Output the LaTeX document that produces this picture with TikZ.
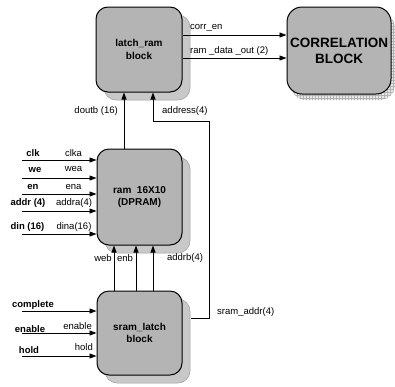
\documentclass[tikz,border=0pt]{standalone}
\usepackage{fontspec}
\setmainfont{Liberation Sans}
\usetikzlibrary{arrows.meta,shadows,patterns}

\definecolor{blockgray}{RGB}{180,180,180}
\definecolor{shadowgray}{RGB}{200,200,200}

\begin{document}
\begin{tikzpicture}[x=1pt,y=-1pt,
  block/.style={draw=black, line width=1pt, fill=blockgray, rounded corners=12pt,
    font=\fontsize{10}{12.5}\selectfont\bfseries, align=center, inner sep=0pt,
    copy shadow={shadow xshift=8pt, shadow yshift=-8pt, fill=shadowgray,
      draw=gray!75, line width=0.5pt}},
  bigblock/.style={draw=black, line width=1pt, fill=blockgray, rounded corners=15pt,
    font=\fontsize{13.5}{16}\selectfont\bfseries, align=center, inner sep=0pt,
    copy shadow={shadow xshift=4pt, shadow yshift=-6pt, fill=gray!18, draw=none,
      postaction={pattern=grid, pattern color=gray!60}}},
  sig/.style={-{Triangle[length=7pt,width=5pt]}, line width=0.9pt},
  lbl/.style={font=\fontsize{9.5}{10}\selectfont, inner sep=0pt},
  blbl/.style={font=\fontsize{9.5}{10}\selectfont\bfseries, inner sep=0pt}
]
\useasboundingbox (0,0) rectangle (395,386);

% blocks
\node[block, minimum width=86pt, minimum height=85pt] (latch) at (139,49.5) {latch\_ram\\block};
\node[bigblock, minimum width=104pt, minimum height=87pt] (corr) at (339,50.5) {CORRELATION\\BLOCK};
\node[block, minimum width=85pt, minimum height=96pt] (ram) at (139.5,197) {ram\ \ 16X10\\(DPRAM)};
\node[block, minimum width=85pt, minimum height=84pt] (sram) at (139.5,333) {sram\_latch\\block};

% latch_ram -> correlation
\draw[sig] (latch.east |- 0,35) -- (corr.west |- 0,35);
\draw[sig] (latch.east |- 0,58) -- (corr.west |- 0,58);
\node[lbl, anchor=west] (lcorr) at (190,28) {corr\_en};
\node[lbl, anchor=west] (ldata) at (190,51) {ram \_data \_out (2)};

% ram -> latch_ram
\draw[sig] (ram.north -| 124,0) -- (latch.south -| 124,0);
\node[lbl, anchor=east] (ldoutb) at (118,111) {doutb (16)};

% sram_addr loop back to latch_ram
\coordinate (ab1) at (209,318);
\coordinate (ab2) at (209,121);
\draw[sig] ([xshift=8pt]sram.east |- ab1) -- (ab1) -- (ab2) -- (ab2 -| 153,0) -- (latch.south -| 153,0);
\node[lbl, anchor=west] (laddr) at (162,111) {address(4)};
\node[lbl, anchor=west] (lsaddr) at (217,312) {sram\_addr(4)};

% sram_latch -> ram port B
\draw[sig] (sram.north -| 114,0) -- (ram.south -| 114,0);
\draw[sig] (sram.north -| 136,0) -- (ram.south -| 136,0);
\draw[sig] (sram.north -| 153,0) -- (ram.south -| 153,0);
\node[lbl] (lweb) at (103,258) {web};
\node[lbl] (lenb) at (125,258) {enb};
\node[lbl] (laddrb) at (185,258) {addrb(4)};

% ram port A inputs
\coordinate (iclk) at (22,160);
\coordinate (iwe) at (22,178);
\coordinate (ien) at (22,194);
\coordinate (iaddr) at (22,211);
\coordinate (idin) at (22,234);
\draw[sig] (iclk) -- (ram.west |- iclk);
\draw[sig] (iwe) -- (ram.west |- iwe);
\draw[sig] (ien) -- (ram.west |- ien);
\draw[sig] (iaddr) -- (ram.west |- iaddr);
\draw[sig] (idin) -- (ram.west |- idin);
\node[blbl] (nclk) at (33,153) {clk};
\node[blbl] (nwe) at (35,170) {we};
\node[blbl] (nen) at (33,187) {en};
\node[blbl] (naddr) at (28,203) {addr (4)};
\node[blbl] (ndin) at (27.5,227) {din (16)};
\node[lbl] (pclk) at (73.5,153) {clka};
\node[lbl] (pwe) at (73.5,169) {wea};
\node[lbl] (pen) at (73.5,187) {ena};
\node[lbl] (paddr) at (74,203) {addra(4)};
\node[lbl] (pdin) at (74,227) {dina(16)};

% sram_latch inputs
\coordinate (icomp) at (22,311);
\coordinate (iena) at (22,333);
\coordinate (ihold) at (22,356);
\draw[sig] (icomp) -- (sram.west |- icomp);
\draw[sig] (iena) -- (sram.west |- iena);
\draw[sig] (ihold) -- (sram.west |- ihold);
\node[blbl] (ncomp) at (33,305) {complete};
\node[blbl] (nena) at (30,329) {enable};
\node[blbl] (nhold) at (29,350) {hold};
\node[lbl, anchor=east] (pena) at (92,326) {enable};
\node[lbl, anchor=east] (phold) at (93,347) {hold};
\end{tikzpicture}
\end{document}
